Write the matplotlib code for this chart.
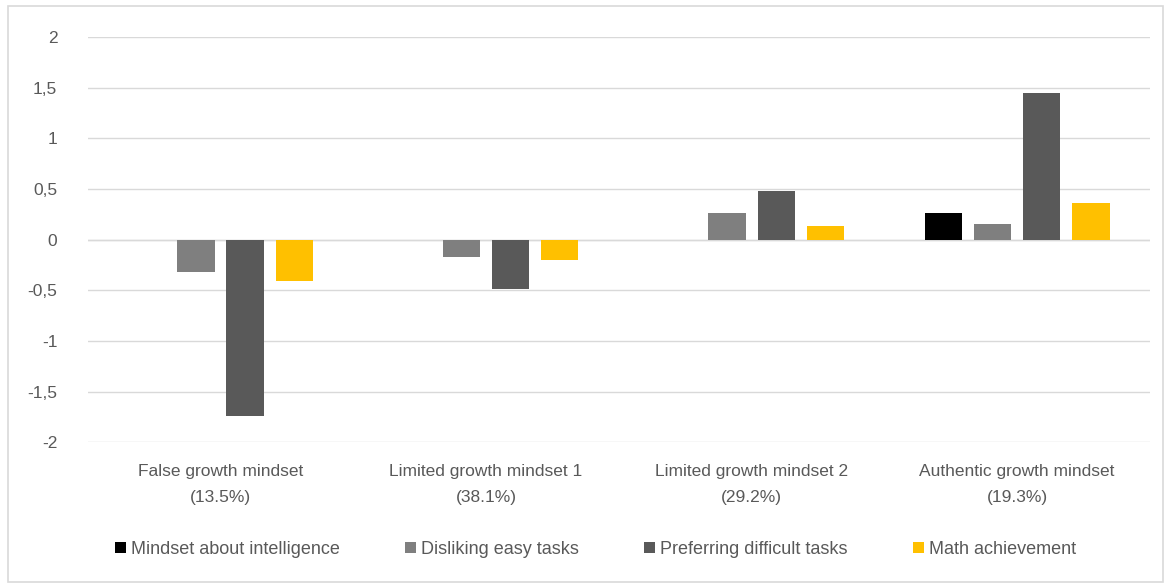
import numpy as np
import matplotlib.pyplot as plt
from matplotlib.patches import Rectangle

plt.rcParams['font.family'] = ['Liberation Sans', 'DejaVu Sans']

groups = ["False growth mindset\n(13.5%)", "Limited growth mindset 1\n(38.1%)",
          "Limited growth mindset 2\n(29.2%)", "Authentic growth mindset\n(19.3%)"]
series = ["Mindset about intelligence", "Disliking easy tasks",
          "Preferring difficult tasks", "Math achievement"]
mindset = [0.0, 0.0, 0.0, 0.26]
disliking = [-0.32, -0.17, 0.26, 0.15]
preferring = [-1.74, -0.49, 0.48, 1.45]
math = [-0.41, -0.20, 0.13, 0.36]
colors = ["#000000", "#7f7f7f", "#595959", "#ffc000"]
yticks = [-2, -1.5, -1, -0.5, 0, 0.5, 1, 1.5, 2]

fig = plt.figure(figsize=(11.71, 5.85), dpi=100)
fig.patches.append(Rectangle((0.007, 0.005), 0.986, 0.985, transform=fig.transFigure,
                             fill=False, edgecolor="#d9d9d9", linewidth=1.2))
ax = fig.add_axes([0.075, 0.244, 0.907, 0.693])

x = np.arange(len(groups))
w = 0.185
for i, (vals, c, name) in enumerate(zip([mindset, disliking, preferring, math], colors, series)):
    ax.bar(x + (i - 1.5) * w, vals, width=w * 0.76, color=c, label=name, zorder=3)

ax.set_xlim(-0.5, len(groups) - 0.5)
ax.set_ylim(-2, 2)
ax.set_yticks(yticks)
ax.set_yticklabels([("%g" % t).replace(".", ",") for t in yticks])
ax.set_xticks(x)
ax.set_xticklabels(groups, linespacing=1.9)
ax.grid(axis="y", color="#d9d9d9", linewidth=1, zorder=0)
ax.axhline(0, color="#d9d9d9", linewidth=1, zorder=1)
for s in ax.spines.values():
    s.set_visible(False)
ax.tick_params(axis="both", length=0, colors="#595959", labelsize=12.5)
ax.tick_params(axis="y", pad=22)
ax.tick_params(axis="x", pad=16)

ax.legend(loc="center", bbox_to_anchor=(0.478, -0.264), ncol=4, frameon=False,
          fontsize=13, labelcolor="#595959", handlelength=0.6, handleheight=0.6,
          handletextpad=0.3, columnspacing=3.6)

fig.savefig("out.png", dpi=100)
